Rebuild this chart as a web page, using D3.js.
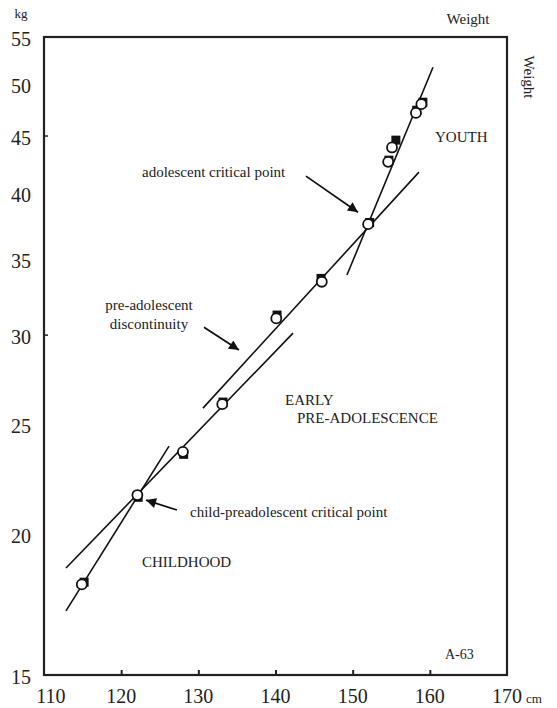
<!DOCTYPE html>
<html>
<head>
<meta charset="utf-8">
<script src="https://cdn.jsdelivr.net/npm/d3@7"></script>
<style>
  html, body { margin: 0; padding: 0; background: #fff; }
  svg { display: block; font-family: "Liberation Serif", "Times New Roman", serif; }
</style>
</head>
<body>
<svg id="chart" width="557" height="708"></svg>
<script>
// ---- data (height in cm, weight in kg) ----
const xTicks = [110, 120, 130, 140, 150, 160, 170];
const yTicks = [15, 20, 25, 30, 35, 40, 45, 50, 55];
const yMinorMarks = [30, 45];

const heightCircle = [114.9, 122.1, 128.0, 133.1, 140.1, 146.0, 152.0, 154.6, 155.1, 158.2, 158.9];
const weightCircle = [18.04, 21.64, 23.63, 26.04, 31.01, 33.41, 37.57, 42.65, 43.92, 47.12, 47.97];
const heightSquare = [115.2, 122.2, 128.1, 133.2, 140.2, 145.9, 152.2, 154.7, 155.6, 158.3, 159.1];
const weightSquare = [18.12, 21.54, 23.51, 26.15, 31.22, 33.64, 37.70, 42.80, 44.58, 47.38, 48.16];

// fitted lines: [height, weight] end points
const lineChildhood = [[112.85, 17.09], [126.2, 23.91]];
const linePreLower  = [[112.85, 18.65], [142.27, 30.09]];
const linePreUpper  = [[130.6, 25.83], [158.59, 41.77]];
const lineYouth     = [[149.26, 33.87], [160.41, 51.72]];

// annotation arrows: [tail, head] in data units
const arrowAdolescent = [[143.95, 41.43], [150.69, 38.5]];
const arrowDiscontinuity = [[130.73, 30.46], [135.27, 29.07]];
const arrowChild = [[127.23, 20.99], [123.22, 21.42]];

// ---- layout ----
const W = 557, H = 708;
const m = { left: 44, right: 50, top: 37, bottom: 33 };
const svg = d3.select("#chart");

const x = d3.scaleLinear().domain([110, 170]).range([m.left, W - m.right]);
const y = d3.scaleLog().domain([15, 55]).range([H - m.bottom, m.top]);

// frame
svg.append("rect")
  .attr("x", x(110)).attr("y", y(55))
  .attr("width", x(170) - x(110)).attr("height", y(15) - y(55))
  .attr("fill", "none").attr("stroke", "#222").attr("stroke-width", 2.2);

// x ticks (inward) via axis
const xAxis = d3.axisBottom(x).tickValues(xTicks.slice(1, -1)).tickSize(-5).tickFormat("");
svg.append("g").attr("transform", `translate(0,${y(15)})`).call(xAxis)
  .call(g => g.select(".domain").remove())
  .call(g => g.selectAll("line").attr("stroke", "#222").attr("stroke-width", 2));

// y minor inward ticks
const yAxis = d3.axisLeft(y).tickValues(yMinorMarks).tickSize(-4).tickFormat("");
svg.append("g").attr("transform", `translate(${x(110)},0)`).call(yAxis)
  .call(g => g.select(".domain").remove())
  .call(g => g.selectAll("line").attr("stroke", "#222").attr("stroke-width", 1.5));

// x labels
svg.append("g").selectAll("text").data(xTicks).join("text")
  .attr("x", d => x(d) + (d === 110 ? 7 : 0)).attr("y", 703)
  .attr("text-anchor", "middle").attr("font-size", 20).attr("fill", "#222")
  .text(d => d);
svg.append("text").attr("x", 526).attr("y", 703).attr("font-size", 13).attr("fill", "#222").text("cm");

// y labels
svg.append("g").selectAll("text").data(yTicks).join("text")
  .attr("x", 31).attr("y", d => y(d) + 2)
  .attr("dy", "0.35em")
  .attr("text-anchor", "end").attr("font-size", 20).attr("fill", "#222")
  .text(d => d);
svg.append("text").attr("x", 21).attr("y", 18).attr("text-anchor", "middle")
  .attr("font-size", 13).attr("fill", "#222").text("kg");

// titles
svg.append("text").attr("x", 468).attr("y", 24).attr("text-anchor", "middle")
  .attr("font-size", 15).attr("fill", "#222").text("Weight");
svg.append("text").attr("transform", "translate(524,77) rotate(90)")
  .attr("text-anchor", "middle").attr("font-size", 15).attr("fill", "#222").text("Weight");

// fitted lines
const lineGen = d3.line().x(d => x(d[0])).y(d => y(d[1]));
svg.append("g").selectAll("path")
  .data([lineChildhood, linePreLower, linePreUpper, lineYouth]).join("path")
  .attr("d", lineGen).attr("fill", "none").attr("stroke", "#111").attr("stroke-width", 1.6);

// arrows
svg.append("defs").append("marker")
  .attr("id", "ah").attr("viewBox", "0 0 10 10").attr("refX", 10).attr("refY", 5)
  .attr("markerWidth", 13).attr("markerHeight", 10).attr("markerUnits", "userSpaceOnUse")
  .attr("orient", "auto")
  .append("path").attr("d", "M0,0 L10,5 L0,10 Z").attr("fill", "#111");
svg.append("g").selectAll("path")
  .data([arrowAdolescent, arrowDiscontinuity, arrowChild]).join("path")
  .attr("d", lineGen).attr("fill", "none").attr("stroke", "#111").attr("stroke-width", 1.8)
  .attr("marker-end", "url(#ah)");

// squares (behind)
const sq = 9;
svg.append("g").selectAll("rect").data(heightSquare.map((h, i) => [h, weightSquare[i]])).join("rect")
  .attr("x", d => x(d[0]) - sq / 2).attr("y", d => y(d[1]) - sq / 2)
  .attr("width", sq).attr("height", sq).attr("fill", "#111");

// circles
svg.append("g").selectAll("circle").data(heightCircle.map((h, i) => [h, weightCircle[i]])).join("circle")
  .attr("cx", d => x(d[0])).attr("cy", d => y(d[1])).attr("r", 5)
  .attr("fill", "#fff").attr("stroke", "#111").attr("stroke-width", 1.8);

// annotations
const ann = [
  { t: "adolescent critical point", x: 142, y: 177, a: "start" },
  { t: "YOUTH", x: 435, y: 142, a: "start" },
  { t: "pre-adolescent", x: 149, y: 310, a: "middle" },
  { t: "discontinuity", x: 149, y: 329, a: "middle" },
  { t: "EARLY", x: 285, y: 405, a: "start" },
  { t: "PRE-ADOLESCENCE", x: 297, y: 423, a: "start" },
  { t: "child-preadolescent critical point", x: 190, y: 517, a: "start" },
  { t: "CHILDHOOD", x: 142, y: 567, a: "start" },
  { t: "A-63", x: 445, y: 659, a: "start", s: 14 }
];
svg.append("g").selectAll("text").data(ann).join("text")
  .attr("x", d => d.x).attr("y", d => d.y).attr("text-anchor", d => d.a)
  .attr("font-size", d => d.s || 15).attr("fill", "#222").text(d => d.t);
</script>
</body>
</html>
